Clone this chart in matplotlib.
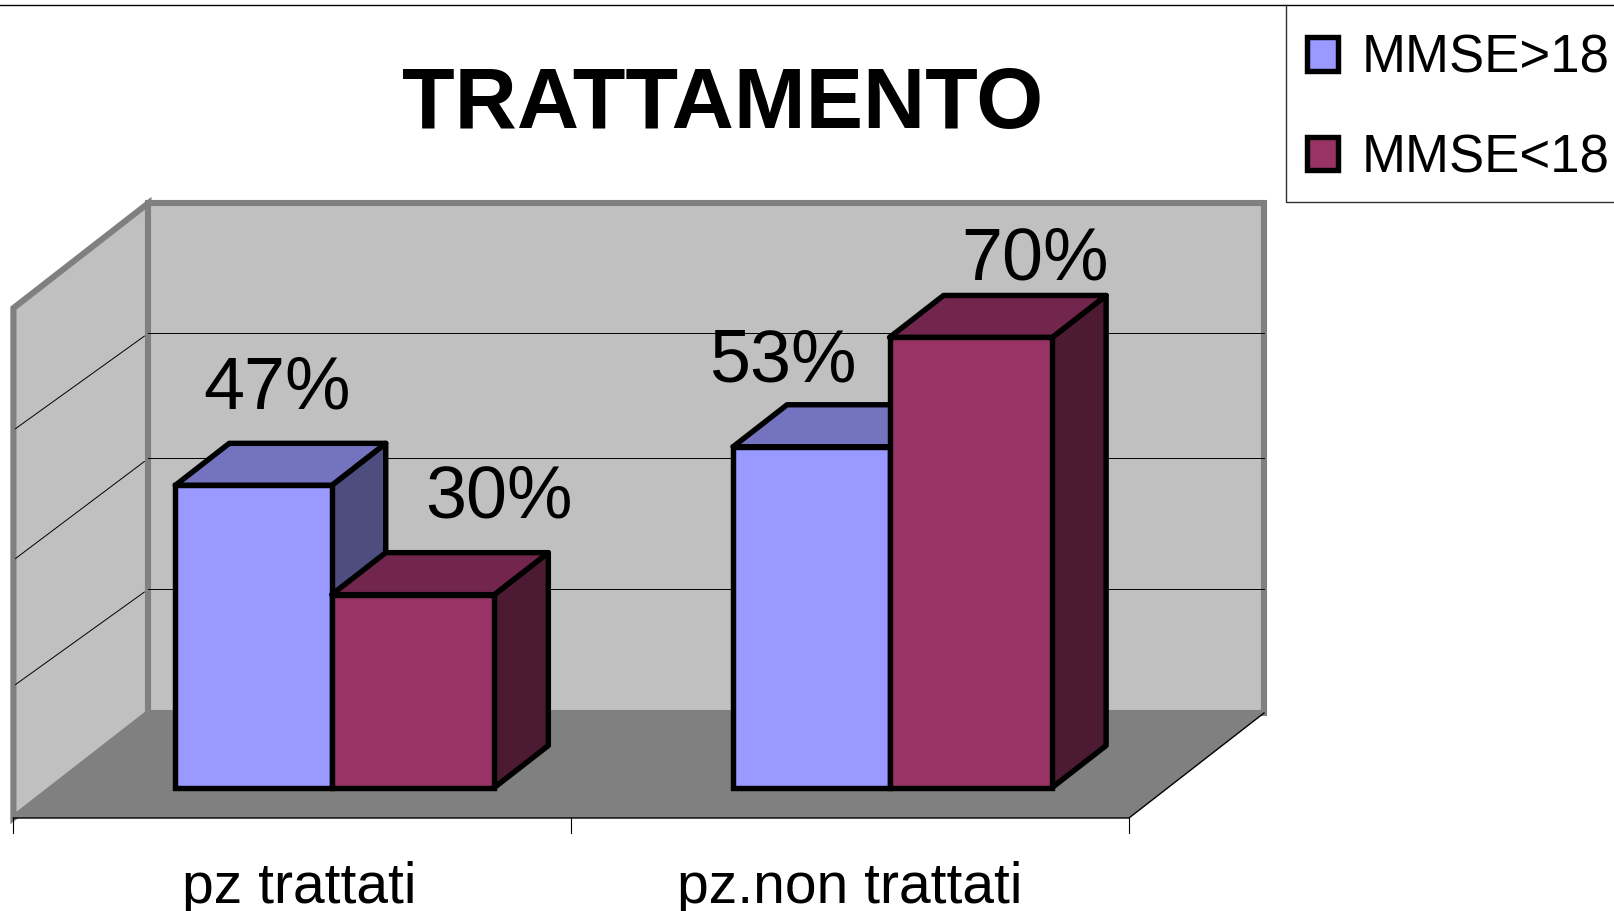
import matplotlib
matplotlib.use('Agg')
import matplotlib.pyplot as plt
from matplotlib.patches import Patch, Polygon

plt.rcParams['font.family'] = ['Liberation Sans', 'DejaVu Sans']

categories = ['pz trattati', 'pz.non trattati']
series_names = ['MMSE>18', 'MMSE<18']
mmse_over = [47, 53]
mmse_under = [30, 70]
grid_back = [19.3, 39.6, 59.1]
grid_front = [20.5, 40.1, 60.3]
wall_top = 79.3

front_colors = ['#9999FF', '#993366']
top_colors = ['#7373BF', '#73264D']
side_colors = ['#4D4D80', '#4C1A33']
WALL = '#C0C0C0'
FLOOR = '#808080'

# px/unit of the picture, the whole figure is one axes
PX_X = 557.8
PX_Y = 6.43
DX = 135 / PX_X
DY = 105 / PX_Y
# depth of bars inside the floor, 0 = front edge, 1 = back wall
D0 = 0.29
D1 = 0.69
BAR_W = [0.2805, 0.2915]
BAR_START = 0.22
# label offset from centre of back top edge, pixels
label_off = [[(-30, 35), (32, 35)], [(-83, 23), (10, 16)]]


def proj(x, v, d):
    return (x + DX * d, v + DY * d)


def face(ax, pts, color, **kw):
    ax.add_patch(Polygon(pts, closed=True, facecolor=color, **kw))


fig = plt.figure(figsize=(16.14, 9.11), dpi=100)
ax = fig.add_axes([0, 0, 1, 1])
ax.set_xlim(-13.4 / PX_X, (1614 - 13.4) / PX_X)
ax.set_ylim((818 - 911) / PX_Y, 818 / PX_Y)
ax.axis('off')

n_cat = len(categories)

# floor and walls
face(ax, [proj(0, 0, 0), proj(n_cat, 0, 0), proj(n_cat, 0, 1), proj(0, 0, 1)], FLOOR, edgecolor='none', zorder=1)
face(ax, [proj(0, 0, 0), proj(0, wall_top, 0), proj(0, wall_top, 1), proj(0, 0, 1)], WALL,
     edgecolor=FLOOR, linewidth=4.4, joinstyle='miter', zorder=2)
face(ax, [proj(0, 0, 1), proj(0, wall_top, 1), proj(n_cat, wall_top, 1), proj(n_cat, 0, 1)], WALL,
     edgecolor=FLOOR, linewidth=4.4, joinstyle='miter', zorder=2)

for gb, gf in zip(grid_back, grid_front):
    a, b, c = proj(0, gf, 0.015), proj(0, gb, 0.97), proj(n_cat, gb, 1)
    ax.plot([a[0], b[0]], [a[1], b[1]], color='black', linewidth=0.7, zorder=3)
    ax.plot([proj(0, gb, 1)[0], c[0]], [b[1] + DY * 0.03, c[1]], color='black', linewidth=0.7, zorder=3)

# front edge of the floor and ticks
a, b, c = proj(0, 0, 0), proj(n_cat, 0, 0), proj(n_cat, 0, 1)
ax.plot([a[0], b[0], c[0]], [a[1], b[1], c[1]], color='black', linewidth=1, zorder=3)
for i in range(n_cat + 1):
    ax.plot([i, i], [0, -15 / PX_Y], color='black', linewidth=0.8, zorder=3)

# bars
z = 4
for i in range(n_cat):
    x0 = i + BAR_START
    for s, vals in enumerate([mmse_over, mmse_under]):
        v = vals[i]
        x1 = x0 + BAR_W[s]
        style = dict(edgecolor='black', linewidth=3.9, joinstyle='round')
        face(ax, [proj(x1, 0, D0), proj(x1, 0, D1), proj(x1, v, D1), proj(x1, v, D0)], side_colors[s], zorder=z, **style)
        face(ax, [proj(x0, v, D0), proj(x1, v, D0), proj(x1, v, D1), proj(x0, v, D1)], top_colors[s], zorder=z, **style)
        fx, fy = proj(x0, 0, D0)
        ax.bar(fx, v, width=BAR_W[s], bottom=fy, align='edge', color=front_colors[s], zorder=z,
               edgecolor='black', linewidth=3.9)
        ax.annotate('%d%%' % v, xy=proj((x0 + x1) / 2, v, D1), xytext=label_off[i][s], textcoords='offset pixels',
                    ha='center', va='baseline', fontsize=53, color='black', zorder=10)
        x0 = x1
        z += 1

for i, cat in enumerate(categories):
    ax.annotate(cat, xy=(i + 0.5, 0), xytext=(0 if i else 7, -85), textcoords='offset pixels',
                ha='center', va='baseline', fontsize=41, color='black')

fig.text(723 / 1614, 1 - 128 / 911, 'TRATTAMENTO', ha='center', va='baseline', fontsize=62, fontweight='bold', color='black')

# top rule and legend box
fig.add_artist(plt.Line2D([0, 1], [1 - 4.5 / 911, 1 - 4.5 / 911], color='black', linewidth=1))
fig.add_artist(plt.Line2D([1286 / 1614, 1286 / 1614, 1], [1 - 4.5 / 911, 1 - 202 / 911, 1 - 202 / 911], color='#303030', linewidth=1))

handles = [Patch(facecolor=c, edgecolor='black', linewidth=3.9) for c in front_colors]
leg = fig.legend(handles, series_names, loc='upper left', bbox_to_anchor=(1296 / 1614, 1 - 23 / 911), frameon=False,
                 fontsize=38, handlelength=0.6, handleheight=0.6, handletextpad=0.44, labelspacing=0.94,
                 borderpad=0.2, borderaxespad=0)

fig.savefig('out.png', dpi=100)
